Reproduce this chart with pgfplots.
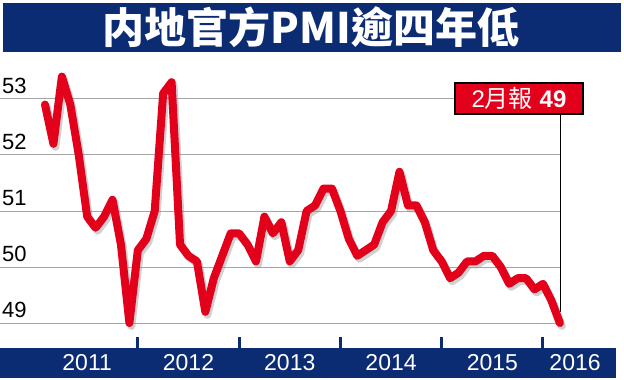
\documentclass[border=0pt]{standalone}
\usepackage{pgfplots}
\pgfplotsset{compat=1.18}
\usepackage{pgfplotstable}
\usepackage{fontspec}
\setmainfont{Liberation Sans}
\newfontfamily\cjk{Noto Sans CJK TC}
\definecolor{navy}{HTML}{0B2B73}
\definecolor{pmired}{HTML}{E3001B}

\pgfplotstableread{
i v
0 52.9
1 52.2
2 53.4
3 52.9
4 52.0
5 50.9
6 50.7
7 50.9
8 51.2
9 50.4
10 49.0
11 50.3
12 50.5
13 51.0
14 53.1
15 53.3
16 50.4
17 50.2
18 50.1
19 49.2
20 49.8
21 50.2
22 50.6
23 50.6
24 50.4
25 50.1
26 50.9
27 50.6
28 50.8
29 50.1
30 50.3
31 51.0
32 51.1
33 51.4
34 51.4
35 51.0
36 50.5
37 50.2
38 50.3
39 50.4
40 50.8
41 51.0
42 51.7
43 51.1
44 51.1
45 50.8
46 50.3
47 50.1
48 49.8
49 49.9
50 50.1
51 50.1
52 50.2
53 50.2
54 50.0
55 49.7
56 49.8
57 49.8
58 49.6
59 49.7
60 49.4
61 49.0
}\pmidata

\begin{document}
\begin{tikzpicture}
\path[use as bounding box] (0pt,0pt) rectangle (624pt,380pt);
\fill[navy] (3pt,328pt) rectangle (621pt,377pt);
\node[text=white, font=\cjk\bfseries\fontsize{42}{42}\selectfont, inner sep=0pt] at (311pt,352.5pt) {内地官方PMI逾四年低};
\fill[navy] (0pt,2pt) rectangle (616pt,32pt);
\begin{axis}[
  at={(0pt,32pt)}, anchor=south west,
  scale only axis, width=624pt, height=288pt,
  xmin=-5.33, xmax=68.6, ymin=48.554, ymax=53.696,
  axis line style={draw=none},
  clip=false,
  ytick={49,50,51,52,53},
  ytick style={draw=none},
  yticklabel style={anchor=south west, inner sep=0pt, xshift=2pt, yshift=5pt, font=\fontsize{22}{22}\selectfont},
  xtick={5,17,29,41,53,62.8},
  xticklabels={2011,2012,2013,2014,2015,2016},
  xtick pos=bottom,
  major tick length=0pt,
  xtick style={draw=navy, line width=3pt},
  xticklabel style={anchor=center, yshift=-15pt, text=white, font=\fontsize{23}{23}\selectfont},
  extra x ticks={11,23,35,47,59},
  extra x tick labels={},
  extra x tick style={major tick length=11pt, tick align=inside},
  /pgf/number format/assume math mode=true,
]
\pgfplotsinvokeforeach{49,50,51,52,53}{
  \draw[black!35, line width=1pt] (axis cs:-5.33,#1) -- (axis cs:61,#1);
}
\draw[black, line width=1.2pt] (axis cs:61.1,49.2) -- (axis cs:61.1,52.73);
\addplot[black!45, opacity=0.4, line width=8pt, line join=round, line cap=round, xshift=2pt, yshift=-3pt] table[x=i, y=v] {\pmidata};
\addplot[pmired, line width=8pt, line join=round, line cap=round] table[x=i, y=v] {\pmidata};
\end{axis}
\node[draw=black, line width=1.2pt, fill=pmired, text=white, minimum width=128pt, minimum height=31pt, inner sep=0pt, font=\fontsize{24}{24}\selectfont] at (519pt,281.5pt) {2{\cjk 月報} \textbf{49}};
\end{tikzpicture}
\end{document}
